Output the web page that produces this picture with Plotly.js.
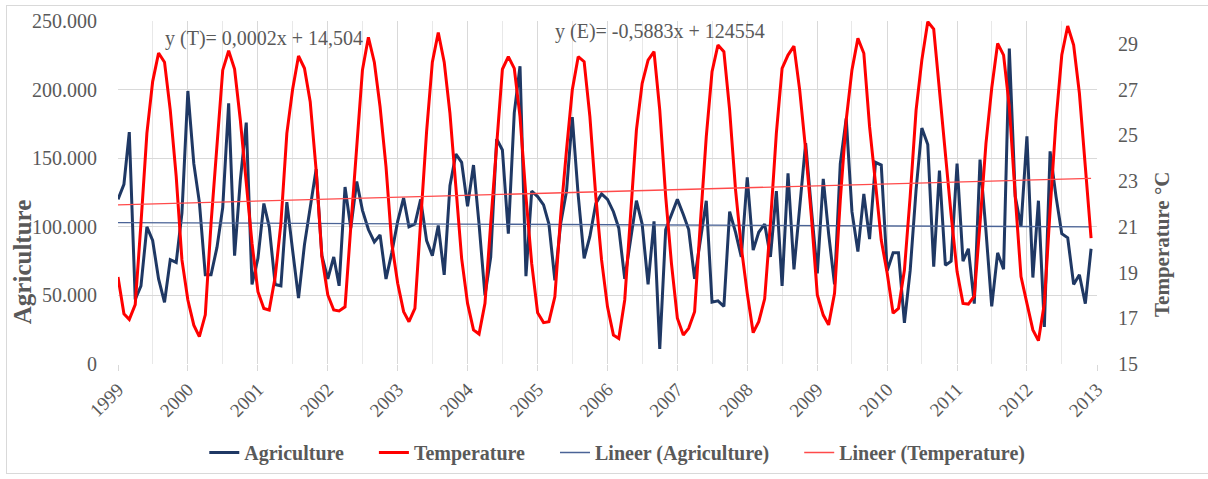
<!DOCTYPE html>
<html>
<head>
<meta charset="utf-8">
<script src="https://cdn.plot.ly/plotly-3.0.1.min.js"></script>
<style>
  html, body { margin: 0; padding: 0; background: #ffffff; }
  #frame { position: absolute; left: 6px; top: 5px; width: 1215px; height: 469px; border: 1px solid #d9d9d9; box-sizing: border-box; }
  #chart { position: absolute; left: 0; top: 0; width: 1208px; height: 479px; }
</style>
</head>
<body>
<div id="frame"></div>
<div id="chart"></div>
<script>
// Years covered (monthly data, Jan 1999 – Dec 2012)
const years = [1999, 2000, 2001, 2002, 2003, 2004, 2005, 2006, 2007, 2008, 2009, 2010, 2011, 2012];

// Agriculture (monthly), 12 values per year
const agriculture = [
  120000, 131000, 169000,  47000,  57000, 100000,  90000,  62000,  45000,  76000,  74000, 110000, // 1999
  199000, 146000, 118000,  65000,  65000,  85000, 114000, 190000,  79000, 134000, 176000,  58000, // 2000
   77000, 117000, 100000,  58000,  57000, 118000,  83000,  48000,  87000, 113000, 142000,  79000, // 2001
   62000,  78000,  57000, 129000,  99000, 133000, 112000,  98000,  89000,  94000,  62000,  81000, // 2002
  104000, 121000, 100000, 102000, 120000,  90000,  79000, 101000,  65000, 130000, 153000, 147000, // 2003
  115000, 145000, 102000,  50000,  78000, 164000, 156000,  95000, 183000, 217000,  64000, 126000, // 2004
  122000, 116000, 102000,  61000, 102000, 126000, 180000, 123000,  77000,  93000, 117000, 124000, // 2005
  120000, 111000,  99000,  62000,  90000, 119000, 102000,  58000, 104000,  11000,  98000, 109000, // 2006
  120000, 109000,  98000,  62000,  90000, 119000,  45000,  46000,  42000, 111000,  96000,  78000, // 2007
  136000,  83000,  96000, 102000,  78000, 126000,  57000, 139000,  69000, 112000, 161000, 113000, // 2008
   66000, 135000,  95000,  58000, 146000, 179000, 111000,  82000, 124000,  91000, 147000, 145000, // 2009
   68000,  81000,  81000,  30000,  68000, 127000, 172000, 160000,  71000, 141000,  72000,  75000, // 2010
  146000,  75000,  84000,  44000, 149000,  97000,  42000,  81000,  69000, 230000, 122000, 100000, // 2011
  166000,  63000, 119000,  27000, 155000, 122000,  95000,  92000,  58000,  65000,  44000,  84000  // 2012
];

// Temperature °C (monthly), 12 values per year
const temperature = [
  18.8, 17.2, 16.95, 17.6, 21.15, 25.1, 27.35, 28.6, 28.2, 26.1, 23.2, 19.55,   // 1999
  17.8, 16.7, 16.2, 17.15, 21.15, 24.65, 27.85, 28.7, 27.9, 25.67, 22.9, 20.28, // 2000
  18.16, 17.43, 17.36, 18.8, 21.15, 25.09, 27.0, 28.47, 27.93, 26.47, 23.48, 19.69, // 2001
  18.02, 17.36, 17.32, 17.5, 21.0, 24.65, 27.86, 29.29, 28.2, 26.25, 23.63, 20.28, // 2002
  18.53, 17.29, 16.85, 17.43, 21.4, 25.16, 28.2, 29.5, 28.2, 25.96, 22.75, 19.62, // 2003
  17.65, 16.49, 16.31, 17.65, 21.15, 24.65, 27.89, 28.44, 27.93, 25.82, 22.32, 19.4, // 2004
  17.24, 16.81, 16.85, 17.94, 21.44, 24.36, 26.98, 28.44, 28.22, 25.82, 22.32, 19.55, // 2005
  17.5, 16.27, 16.12, 17.8, 21.59, 25.23, 27.27, 28.29, 28.66, 26.1, 22.32, 19.4, // 2006
  17.0, 16.27, 16.56, 17.29, 21.15, 24.94, 27.78, 28.95, 28.66, 26.1, 22.6, 20.1, // 2007
  18.09, 16.37, 16.85, 17.85, 21.15, 25.09, 27.93, 28.51, 28.9, 26.98, 24.36, 21.44, // 2008
  18.02, 17.14, 16.71, 18.09, 22.17, 25.67, 27.86, 29.24, 28.59, 25.38, 22.9, 20.42, // 2009
  18.97, 17.22, 17.43, 19.11, 22.32, 26.1, 28.29, 29.97, 29.65, 26.87, 24.07, 21.52, // 2010
  19.04, 17.65, 17.62, 17.97, 21.15, 24.65, 27.06, 29.02, 28.51, 26.25, 22.32, 18.82, // 2011
  17.65, 16.49, 16.02, 17.65, 21.73, 25.67, 28.51, 29.78, 28.95, 26.84, 23.63, 20.5  // 2012
];

// Trendline equations shown on the chart
const eqTemperature = "y (T)= 0,0002x + 14,504";
const eqAgriculture = "y (E)= -0,5883x + 124554";

// Series names
const names = ["Agriculture", "Temperature", "Lineer (Agriculture)", "Lineer (Temperature)"];

// Build month dates (categories)
const dates = [];
years.forEach(y => {
  for (let m = 1; m <= 12; m++) dates.push(y + "-" + String(m).padStart(2, "0") + "-01");
});

// Least squares linear trend (as spreadsheet trendline does)
function trend(vals) {
  const n = vals.length;
  let sx = 0, sy = 0, sxx = 0, sxy = 0;
  for (let i = 0; i < n; i++) { sx += i; sy += vals[i]; sxx += i * i; sxy += i * vals[i]; }
  const b = (n * sxy - sx * sy) / (n * sxx - sx * sx);
  const a = (sy - b * sx) / n;
  return [a, a + b * (n - 1)];
}
const trA = trend(agriculture);
const trT = trend(temperature);
const trX = [dates[0], dates[dates.length - 1]];

const fontFam = "'Liberation Serif', 'Times New Roman', serif";
const gray = "#595959";
const pad = "\u00a0\u00a0\u00a0\u00a0\u00a0";

const traces = [
  { x: dates, y: agriculture, name: names[0] + pad, type: "scatter", mode: "lines",
    line: { color: "#1f3864", width: 3 }, yaxis: "y" },
  { x: dates, y: temperature, name: names[1] + pad, type: "scatter", mode: "lines",
    line: { color: "#ff0000", width: 3 }, yaxis: "y2" },
  { x: trX, y: trA, name: names[2] + pad, type: "scatter", mode: "lines",
    line: { color: "#4a6396", width: 1.3 }, yaxis: "y" },
  { x: trX, y: trT, name: names[3], type: "scatter", mode: "lines",
    line: { color: "#ff4a4a", width: 1.3 }, yaxis: "y2" }
];

const layout = {
  width: 1208, height: 479,
  margin: { l: 118, r: 111, t: 21, b: 115, autoexpand: false },
  paper_bgcolor: "rgba(0,0,0,0)",
  plot_bgcolor: "rgba(0,0,0,0)",
  separators: ",.",
  showlegend: true,
  xaxis: {
    type: "date",
    range: ["1999-01-01", "2013-01-01"],
    dtick: "M12", tick0: "1999-01-01", tickformat: "%Y",
    tickangle: -45, automargin: false,
    showgrid: true, gridcolor: "#d9d9d9", gridwidth: 1,
    minor: { dtick: "M6", showgrid: true, gridcolor: "#e8e8e8" },
    ticks: "outside", ticklen: 6, tickcolor: "#d9d9d9",
    zeroline: false, showline: false,
    tickfont: { family: fontFam, size: 19, color: gray }
  },
  yaxis: {
    range: [0, 250000], dtick: 50000, tickformat: ",d", automargin: false,
    showgrid: true, gridcolor: "#d9d9d9", zeroline: false, showline: false,
    ticks: "outside", ticklen: 16, tickcolor: "rgba(0,0,0,0)",
    tickfont: { family: fontFam, size: 20, color: gray }
  },
  yaxis2: {
    overlaying: "y", side: "right", automargin: false,
    range: [15, 30], tickvals: [15, 17, 19, 21, 23, 25, 27, 29],
    showgrid: false, zeroline: false, showline: false,
    ticks: "outside", ticklen: 16, tickcolor: "rgba(0,0,0,0)",
    tickfont: { family: fontFam, size: 20, color: gray }
  },
  legend: {
    orientation: "h", x: 0.51, xanchor: "center", y: -0.258, yanchor: "middle",
    itemwidth: 30,
    font: { family: fontFam, size: 20, color: gray, weight: "bold" }
  },
  annotations: [
    { text: eqTemperature, xref: "paper", yref: "paper", x: 0.046, y: 0.95,
      xanchor: "left", yanchor: "middle", showarrow: false,
      font: { family: fontFam, size: 20, color: gray } },
    { text: eqAgriculture, xref: "paper", yref: "paper", x: 0.4443, y: 0.968,
      xanchor: "left", yanchor: "middle", showarrow: false,
      font: { family: fontFam, size: 20, color: gray } },
    { text: "Agriculture", xref: "paper", yref: "paper", x: -0.098, y: 0.297,
      xanchor: "center", yanchor: "middle", textangle: -90, showarrow: false,
      font: { family: fontFam, size: 25, color: gray, weight: "bold" } },
    { text: "Temperature °C", xref: "paper", yref: "paper", x: 1.0664, y: 0.347,
      xanchor: "center", yanchor: "middle", textangle: -90, showarrow: false,
      font: { family: fontFam, size: 21, color: gray, weight: "bold" } }
  ]
};

Plotly.newPlot("chart", traces, layout, { displayModeBar: false, staticPlot: true });
</script>
</body>
</html>
